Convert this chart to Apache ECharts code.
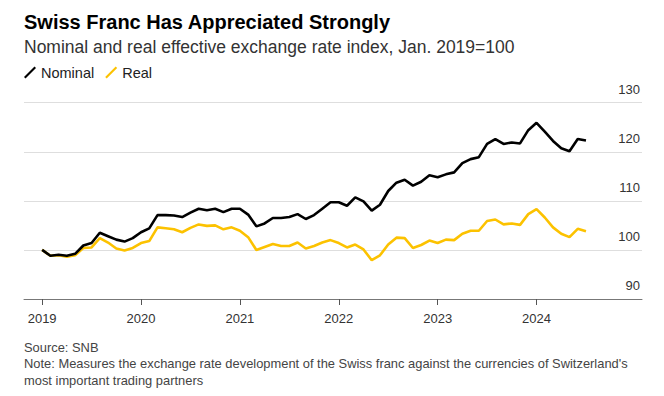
<!DOCTYPE html>
<html>
<head>
<meta charset="utf-8">
<script src="https://cdn.jsdelivr.net/npm/echarts@6/dist/echarts.min.js"></script>
<style>
  html, body { margin: 0; padding: 0; background: #fff; }
  #chart { width: 664px; height: 396px; }
</style>
</head>
<body>
<div id="chart"></div>
<script>
// monthly, Jan 2019 .. Jul 2024
const months = [
  '2019-01','2019-02','2019-03','2019-04','2019-05','2019-06','2019-07','2019-08','2019-09','2019-10','2019-11','2019-12',
  '2020-01','2020-02','2020-03','2020-04','2020-05','2020-06','2020-07','2020-08','2020-09','2020-10','2020-11','2020-12',
  '2021-01','2021-02','2021-03','2021-04','2021-05','2021-06','2021-07','2021-08','2021-09','2021-10','2021-11','2021-12',
  '2022-01','2022-02','2022-03','2022-04','2022-05','2022-06','2022-07','2022-08','2022-09','2022-10','2022-11','2022-12',
  '2023-01','2023-02','2023-03','2023-04','2023-05','2023-06','2023-07','2023-08','2023-09','2023-10','2023-11','2023-12',
  '2024-01','2024-02','2024-03','2024-04','2024-05','2024-06','2024-07'
];

const nominal = [
  100.0, 98.8, 99.0, 98.8, 99.2, 100.9, 101.4, 103.5, 102.8, 102.1, 101.7, 102.4,
  103.6, 104.4, 107.1, 107.1, 107.0, 106.7, 107.6, 108.4, 108.1, 108.4, 107.7, 108.4,
  108.4, 107.2, 104.8, 105.4, 106.5, 106.5, 106.7, 107.3, 106.3, 107.1, 108.4, 109.7,
  109.7, 109.0, 110.7, 109.9, 108.0, 109.2, 112.0, 113.7, 114.3, 113.1, 113.9, 115.2,
  114.8, 115.4, 115.8, 117.7, 118.5, 118.9, 121.6, 122.6, 121.6, 121.9, 121.7, 124.4,
  125.9, 124.1, 122.2, 120.7, 120.1, 122.6, 122.3
];

const real = [
  100.0, 98.8, 98.9, 98.6, 98.9, 100.4, 100.5, 102.4, 101.5, 100.3, 99.9, 100.4,
  101.4, 101.8, 104.6, 104.4, 104.2, 103.6, 104.5, 105.2, 104.9, 105.0, 104.2, 104.6,
  103.9, 102.6, 100.0, 100.6, 101.2, 100.8, 100.8, 101.5, 100.3, 100.8, 101.5, 102.0,
  101.4, 100.5, 101.1, 100.1, 97.9, 98.9, 101.1, 102.5, 102.4, 100.4, 101.0, 101.9,
  101.4, 102.1, 102.0, 103.3, 103.9, 103.9, 105.9, 106.2, 105.2, 105.4, 105.1, 107.3,
  108.3, 106.6, 104.6, 103.3, 102.6, 104.3, 103.8
];

const yearTicks = ['2019', '2020', '2021', '2022', '2023', '2024'];

const FONT = '"Liberation Sans", Arial, sans-serif';
const tickPos = yearTicks.map((y) => months.indexOf(y + '-01'));
const toPoints = (arr) => arr.map((v, i) => [i, v]);

const chart = echarts.init(document.getElementById('chart'), null, { renderer: 'svg' });

const option = {
  animation: false,
  backgroundColor: '#fff',
  textStyle: { fontFamily: FONT },
  title: [
    {
      text: 'Swiss Franc Has Appreciated Strongly',
      left: 19,
      top: 7,
      textStyle: { fontSize: 20, fontWeight: 'bold', color: '#000', fontFamily: FONT },
    },
    {
      text: 'Nominal and real effective exchange rate index, Jan. 2019=100',
      left: 19,
      top: 33,
      textStyle: { fontSize: 17.5, fontWeight: 'normal', color: '#333', fontFamily: FONT },
    },
    {
      text: 'Source: SNB\nNote: Measures the exchange rate development of the Swiss franc against the currencies of Switzerland\'s\nmost important trading partners',
      left: 19,
      top: 334,
      textStyle: { fontSize: 12.9, fontWeight: 'normal', color: '#444', lineHeight: 16.5, fontFamily: FONT },
    },
  ],
  legend: {
    left: 19,
    top: 65,
    itemWidth: 12,
    itemHeight: 12,
    itemGap: 11,
    padding: [0, 5],
    icon: 'path://M0,10.5 L10.5,0 L12,1.5 L1.5,12 Z',
    textStyle: { fontSize: 14.5, color: '#222', fontFamily: FONT },
    data: ['Nominal', 'Real'],
  },
  grid: {
    left: 24,
    right: 22,
    top: 102.7,
    bottom: 97,
  },
  xAxis: {
    type: 'value',
    min: -2.2,
    max: 72.8,
    splitLine: { show: false },
    axisLine: { show: true, lineStyle: { color: '#777', width: 1 } },
    axisTick: {
      show: true,
      length: 6,
      customValues: tickPos,
      lineStyle: { color: '#555', width: 1 },
    },
    axisLabel: {
      customValues: tickPos,
      formatter: (v) => yearTicks[tickPos.indexOf(v)] || '',
      fontSize: 13,
      color: '#333',
      margin: 13,
      fontFamily: FONT,
    },
  },
  yAxis: {
    type: 'value',
    position: 'right',
    min: 90,
    max: 130,
    interval: 10,
    axisLine: { show: false },
    axisTick: { show: false },
    splitLine: { show: true, lineStyle: { color: '#dedede', width: 1.2 } },
    axisLabel: {
      inside: true,
      margin: 2,
      fontSize: 13,
      color: '#333',
      verticalAlign: 'bottom',
      padding: [0, 0, 7, 0],
      fontFamily: FONT,
    },
  },
  series: [
    {
      name: 'Nominal',
      type: 'line',
      data: toPoints(nominal),
      showSymbol: false,
      lineStyle: { color: '#000', width: 2.6 },
      itemStyle: { color: '#000' },
      z: 3,
    },
    {
      name: 'Real',
      type: 'line',
      data: toPoints(real),
      showSymbol: false,
      lineStyle: { color: '#fcc200', width: 2.6 },
      itemStyle: { color: '#fcc200' },
      z: 2,
    },
  ],
};

chart.setOption(option);
</script>
</body>
</html>
